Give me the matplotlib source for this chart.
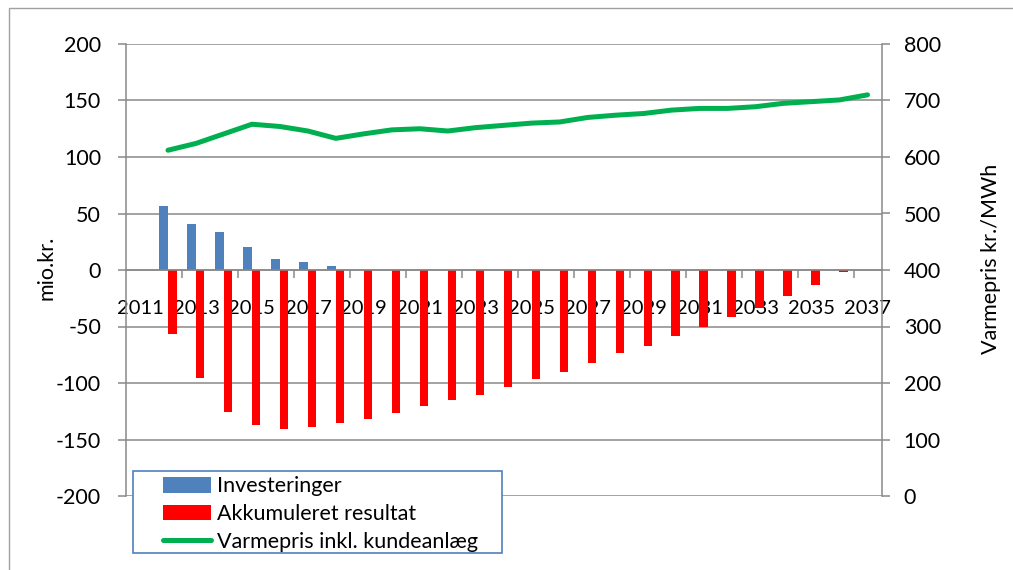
import matplotlib
matplotlib.use('Agg')
import matplotlib.pyplot as plt
import matplotlib.patches as mpatches
import numpy as np

plt.rcParams['font.family'] = ['Lato', 'DejaVu Sans']
plt.rcParams['axes.unicode_minus'] = False

years = list(range(2011, 2038))
invest_years = list(range(2012, 2026))
invest = [56.6, 40.4, 33.3, 20.0, 9.7, 6.8, 3.5, 0.4, 0.4, 0.3, 0.3, 0.3, 0.3, 0.3]
result_years = list(range(2012, 2037))
result = [-56.6, -95.3, -125.4, -137.2, -140.7, -138.6, -135.7, -132.2, -126.8,
          -120.4, -115.3, -110.3, -103.8, -96.8, -90.3, -82.0, -73.7, -67.0,
          -58.7, -50.1, -41.9, -33.3, -23.3, -13.3, -1.5]
price_years = list(range(2012, 2038))
price = [612, 624, 641, 658, 654, 646, 633, 641, 648, 650, 646, 652, 656,
         660, 662, 670, 674, 677, 683, 686, 686, 689, 695, 698, 701, 710]

GRAY = '#898989'
W, H = 1013, 570

fig = plt.figure(figsize=(W / 100, H / 100), dpi=100)
ax = fig.add_axes([126 / W, 1 - 496 / H, (881.5 - 126) / W, (496 - 44) / H])
ax2 = ax.twinx()

idx = {y: i for i, y in enumerate(years)}
xi = np.array([idx[y] for y in invest_years])
xr = np.array([idx[y] for y in result_years])
xp = np.array([idx[y] for y in price_years])

bw = 0.31
ax.bar(xi - 0.15, invest, bw, color='#4F81BD', label='Investeringer', zorder=2)
ax.bar(xr + 0.15, result, bw, color='#FF0000', label='Akkumuleret resultat', zorder=2)
ax2.plot(xp, price, color='#00B050', lw=3.6, solid_capstyle='round',
         solid_joinstyle='round', label='Varmepris inkl. kundeanlæg')

ax.set_xlim(-0.5, len(years) - 0.5)
ax.set_ylim(-200, 200)
ax.set_yticks(np.arange(-200, 201, 50))
ax2.set_ylim(0, 800)
ax2.set_yticks(np.arange(0, 801, 100))

ax.set_axisbelow(True)
ax.yaxis.grid(True, color=GRAY, lw=1.1)
for s in ['top', 'right']:
    ax.spines[s].set_visible(False)
ax.spines['left'].set_color(GRAY)
ax.spines['left'].set_linewidth(1.1)
ax.spines['bottom'].set_position(('data', 0))
ax.spines['bottom'].set_color(GRAY)
ax.spines['bottom'].set_linewidth(1.1)
for s in ['top', 'left', 'bottom']:
    ax2.spines[s].set_visible(False)
ax2.spines['right'].set_color(GRAY)
ax2.spines['right'].set_linewidth(1.1)

# tick marks every second category boundary, labels every second category
ax.set_xticks(np.arange(1.5, len(years) - 1, 2))
ax.set_xticklabels([])
ax.tick_params(axis='x', which='major', length=6, width=1.1, color=GRAY, direction='out')
ax.set_xticks(np.arange(0, len(years), 2), minor=True)
ax.set_xticklabels([str(y) for y in years[::2]], minor=True)
ax.tick_params(axis='x', which='minor', length=0, pad=21.5, labelsize=14.5)

ax.tick_params(axis='y', length=6, width=1.1, color=GRAY, pad=12, labelsize=15.5)
ax2.tick_params(axis='y', length=6, width=1.1, color=GRAY, pad=10, labelsize=15.5)

fig.text(46 / W, 1 - 268 / H, 'mio.kr.', rotation=90, ha='center', va='center', fontsize=15.5)
fig.text(991 / W, 1 - 259 / H, 'Varmepris kr./MWh', rotation=90, ha='center', va='center', fontsize=15.5)

# chart border (only left and top visible in the frame)
fig.patches.append(mpatches.Rectangle((9 / W, -0.1), 1.2, 1 - 8 / H + 0.1,
                                      transform=fig.transFigure, fill=False,
                                      edgecolor='#A0A0A0', lw=1.0))

# legend box
fig.patches.append(mpatches.Rectangle((133 / W, 1 - 553 / H), (502 - 133) / W, (553 - 471) / H,
                                      transform=fig.transFigure, facecolor='white',
                                      edgecolor='#4F81BD', lw=1.2, zorder=4))
h1, l1 = ax.get_legend_handles_labels()
h2, l2 = ax2.get_legend_handles_labels()
leg = fig.legend(h1 + h2, l1 + l2, loc='upper left',
                 bbox_to_anchor=(163 / W, 1 - 476.5 / H), frameon=False,
                 borderpad=0, borderaxespad=0, handlelength=2.23,
                 handletextpad=0.28, labelspacing=0.35, fontsize=15.5)
leg.set_zorder(5)

fig.savefig('out.png', dpi=100)
